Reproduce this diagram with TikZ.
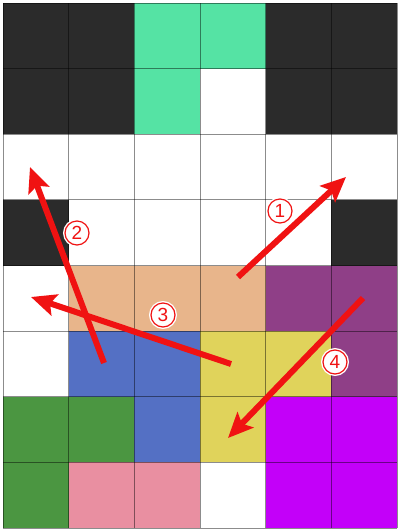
\documentclass[tikz,border=0pt]{standalone}
\usepackage{fontspec}
\setmainfont{Liberation Sans}
\usetikzlibrary{arrows.meta}
\definecolor{cK}{HTML}{2B2B2B}
\definecolor{cG}{HTML}{55E3A4}
\definecolor{cW}{HTML}{FFFFFF}
\definecolor{cP}{HTML}{E8B58B}
\definecolor{cU}{HTML}{8F3F87}
\definecolor{cB}{HTML}{5470C4}
\definecolor{cY}{HTML}{E0D35B}
\definecolor{cD}{HTML}{4B9641}
\definecolor{cM}{HTML}{C300F9}
\definecolor{cI}{HTML}{E98FA1}
\definecolor{arrowred}{RGB}{240,18,18}
\tikzset{
  gridline/.style={draw=black, opacity=0.45, line width=0.9pt},
  movearrow/.style={draw=arrowred, line width=6pt, -{Stealth[length=25pt,width=22pt,inset=5pt]}},
  lbl/.style={circle, draw=arrowred, fill=white, line width=1.2pt, minimum size=24pt, inner sep=0pt,
    text=arrowred, font=\fontsize{19}{19}\selectfont, preaction={draw=white, line width=4pt}}
}
\begin{document}
\begin{tikzpicture}[x=1pt,y=-1pt]
\useasboundingbox (0,0) rectangle (400,531);
\fill[white] (0,0) rectangle (400,531);
\def\cw{65.67}
\def\ch{65.63}
\foreach \r/\cols in {0/{K,K,G,G,K,K},1/{K,K,G,W,K,K},2/{W,W,W,W,W,W},3/{K,W,W,W,W,K},4/{W,P,P,P,U,U},5/{W,B,B,Y,Y,U},6/{D,D,B,Y,M,M},7/{D,I,I,W,M,M}}{
  \foreach \c [count=\i from 0] in \cols {
    \fill[c\c] (3+\cw*\i, 3+\ch*\r) rectangle ++(\cw,\ch);
  }
}
\foreach \i in {0,...,6} { \draw[gridline] (3+\cw*\i,3) -- (3+\cw*\i,528); }
\foreach \j in {0,...,8} { \draw[gridline] (3,3+\ch*\j) -- (397,3+\ch*\j); }
% arrow end points
\coordinate (a1s) at (238,277);
\coordinate (a1e) at (346,177);
\coordinate (a2s) at (104,363);
\coordinate (a2e) at (30,167);
\coordinate (a3s) at (231,364);
\coordinate (a3e) at (31,297);
\coordinate (a4s) at (363,298);
\coordinate (a4e) at (228,438);
\draw[movearrow] (a1s) -- (a1e);
\draw[movearrow] (a2s) -- (a2e);
\draw[movearrow] (a3s) -- (a3e);
\draw[movearrow] (a4s) -- (a4e);
\node[lbl] (l1) at (280,211) {1};
\node[lbl] (l2) at (77,233) {2};
\node[lbl] (l3) at (163,315) {3};
\node[lbl] (l4) at (335,362) {4};
\end{tikzpicture}
\end{document}
